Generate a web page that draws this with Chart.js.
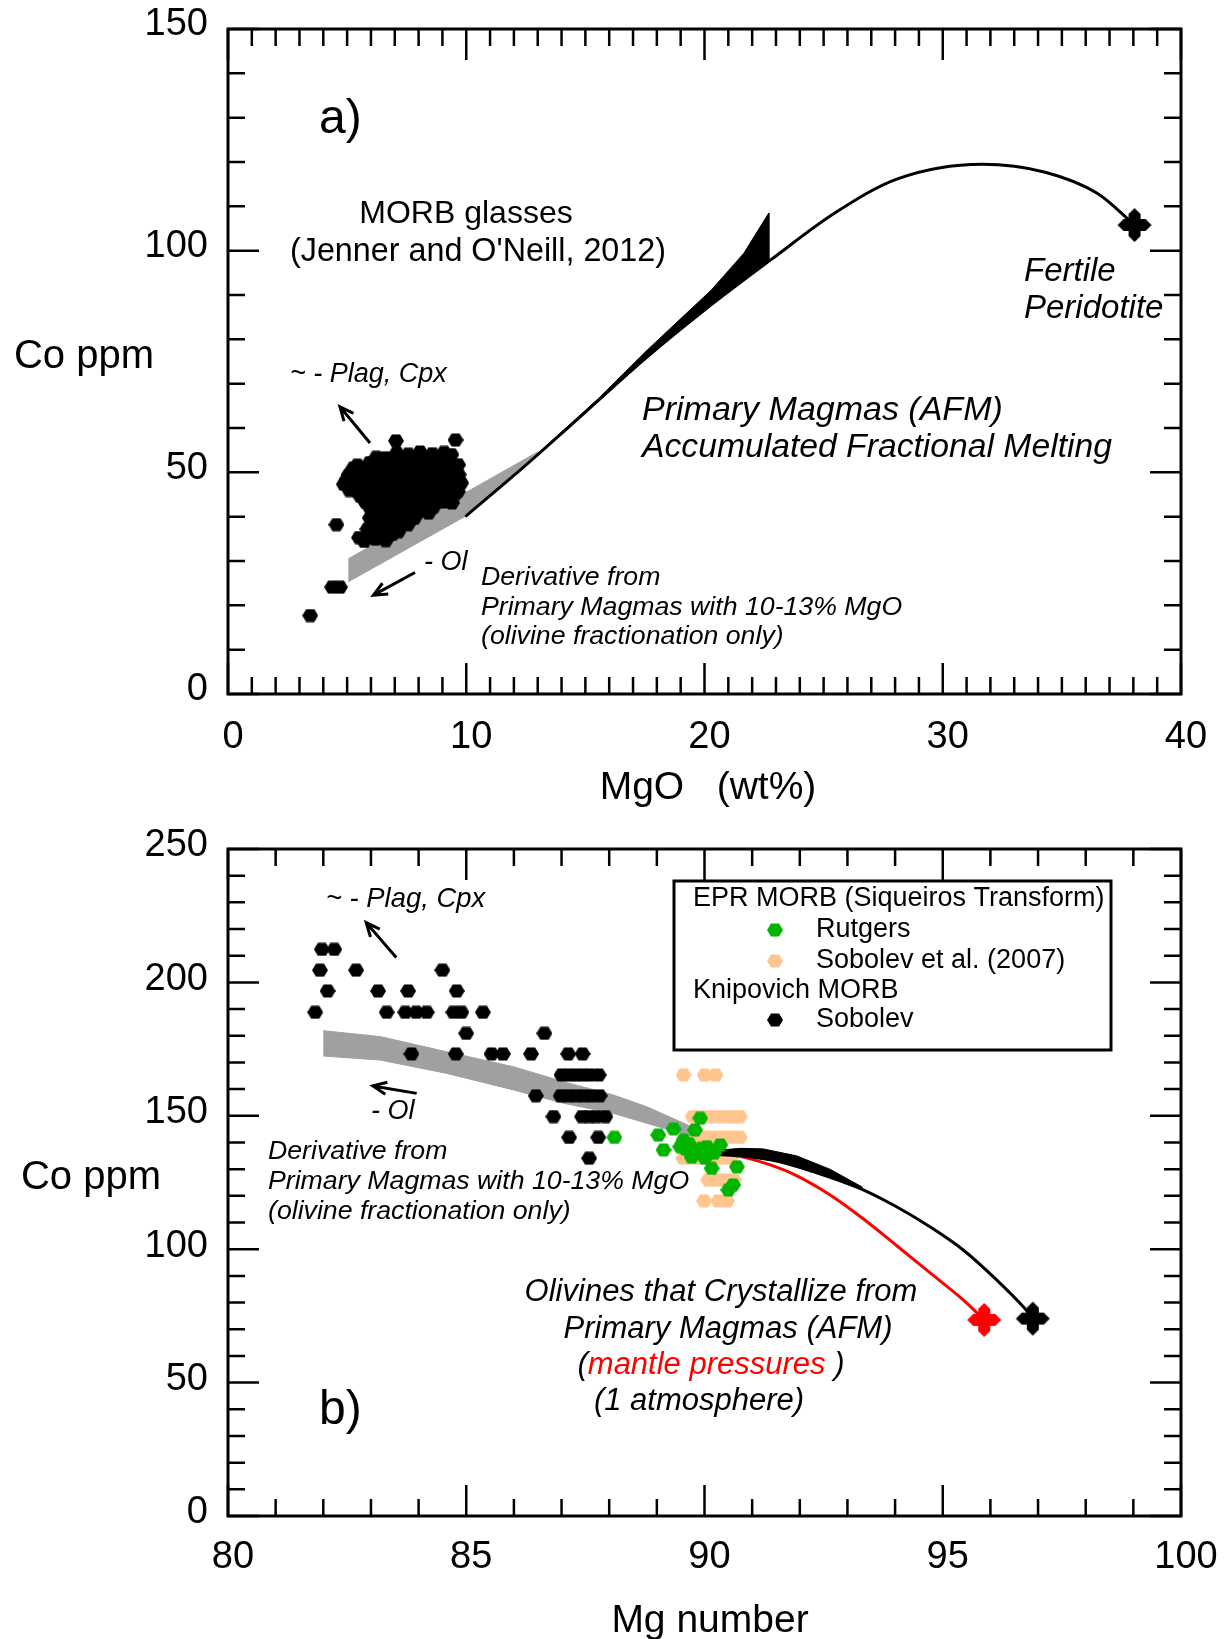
<!DOCTYPE html>
<html>
<head>
<meta charset="utf-8">
<script src="https://cdn.jsdelivr.net/npm/chart.js@4.4.1/dist/chart.umd.min.js"></script>
<style>
  html, body { margin: 0; padding: 0; background: #fff; }
  #wrap { position: relative; width: 1231px; height: 1639px; }
  #mgoChart { position: absolute; left: 0; top: 0; }
  #mgnumChart { position: absolute; left: 0; top: 820px; }
</style>
</head>
<body>
<div id="wrap">
  <canvas id="mgoChart" width="1231" height="820"></canvas>
  <canvas id="mgnumChart" width="1231" height="819"></canvas>
</div>
<script>
// ---- a) Co vs MgO (wt%) ----
const mgoTickLabels = [0, 10, 20, 30, 40];
const coTickLabelsA = [0, 50, 100, 150];

// MORB glasses (Jenner and O'Neill, 2012)
const morbMgO = [
  3.45, 4.37, 4.70, 4.55, 7.05, 9.55, 5.50,
  5.72, 6.18, 6.62,
  5.95, 6.45, 6.90,
  5.85, 6.30, 6.78, 7.15,
  6.08, 6.55, 7.05, 7.55,
  5.95, 6.42, 6.88, 7.34, 7.82,
  6.12, 6.60, 7.08, 7.55, 8.00, 8.42,
  5.92, 6.36, 6.81, 7.28, 7.74, 8.21, 8.62,
  5.75, 6.20, 6.68, 7.15, 7.62, 8.10, 8.55, 9.02, 9.40,
  5.55, 6.02, 6.48, 6.97, 7.44, 7.91, 8.38, 8.84, 9.28, 9.56,
  5.10, 5.58, 6.05, 6.50, 6.95, 7.42, 7.88, 8.35, 8.80, 9.26, 9.65,
  4.86, 5.31, 5.79, 6.24, 6.71, 7.18, 7.66, 8.12, 8.58, 9.04, 9.49, 9.79,
  4.98, 5.45, 5.90, 6.37, 6.85, 7.33, 7.80, 8.26, 8.72, 9.18, 9.62,
  5.06, 5.52, 5.98, 6.46, 6.93, 7.41, 7.88, 8.36, 8.81, 9.26, 9.68,
  5.25, 5.72, 6.20, 6.66, 7.13, 7.60, 8.06, 8.53, 9.00, 9.45,
  5.43, 5.94, 6.41, 6.87, 7.33, 7.81, 8.28, 8.74, 9.21, 9.66,
  6.60, 7.30, 7.82, 8.32, 8.82, 9.25,
  6.22, 7.08, 7.57, 8.06, 8.58, 9.07, 9.38
];
const morbCo = [
  17.7, 24.1, 24.1, 38.2, 57.1, 57.3, 35.3,
  34.4, 34.9, 34.6,
  35.9, 35.6, 36.0,
  37.2, 36.8, 37.4, 36.6,
  38.4, 38.1, 38.6, 38.2,
  39.7, 39.2, 39.9, 39.3, 39.6,
  40.9, 40.6, 41.0, 40.7, 41.1, 40.8,
  42.3, 41.8, 42.4, 41.9, 42.5, 41.7, 42.1,
  43.4, 43.1, 43.5, 43.2, 43.6, 43.0, 43.4, 43.3, 43.1,
  44.6, 44.2, 44.9, 44.3, 44.8, 44.4, 44.7, 44.1, 44.6, 45.2,
  45.9, 45.6, 46.0, 45.7, 45.9, 45.5, 46.1, 45.8, 45.6, 46.0, 45.7,
  47.3, 46.8, 47.4, 46.9, 47.2, 46.7, 47.5, 46.9, 47.3, 46.8, 47.4, 47.6,
  48.4, 48.1, 48.5, 48.2, 48.6, 48.0, 48.4, 48.3, 48.1, 48.5, 48.2,
  49.4, 49.8, 49.2, 49.7, 49.3, 49.9, 49.4, 49.8, 49.2, 49.7, 49.5,
  50.9, 50.6, 51.0, 50.7, 50.9, 50.5, 51.1, 50.8, 50.6, 50.9,
  51.6, 52.2, 51.8, 52.3, 51.7, 52.1, 51.8, 52.4, 51.9, 51.7,
  53.3, 53.0, 53.4, 53.1, 53.5, 53.2,
  53.4, 54.4, 54.1, 54.6, 54.2, 54.5, 54.0
];

// primary magmas (AFM), accumulated fractional melting path
const afmMgO = [10.0, 12.0, 13.0, 15.0, 17.5, 20.0, 22.75, 25.5, 28.1, 31.65, 34.3, 36.5, 38.05];
const afmCo  = [40.2, 49.3, 54.0, 63.6, 75.6, 86.6, 97.8, 108.6, 116.2, 119.5, 117.7, 112.9, 105.8];

// spread of the AFM path (outline, upper edge then back along lower edge)
const afmSpreadMgO = [13.3, 15.5, 17.6, 20.3, 21.65, 22.7, 22.7, 20.3, 17.6, 15.5, 13.3];
const afmSpreadCo  = [55.7, 66.4, 77.6, 91.2, 99.4, 108.5, 97.6, 87.9, 76.1, 66.0, 55.4];

// olivine-only derivatives of 10-13% MgO primary magmas
const olBandMgO = [5.05, 13.0, 10.0, 5.05];
const olBandCo  = [30.5, 54.6, 40.2, 25.3];

// fertile peridotite
const fertileMgO = [38.05];
const fertileCo  = [105.8];

// ---- b) Co vs Mg number ----
const mgTickLabels = [80, 85, 90, 95, 100];
const coTickLabelsB = [0, 50, 100, 150, 200, 250];

// Knipovich MORB olivines (Sobolev)
const knipMg = [
  81.97, 82.23,
  81.93, 82.69, 84.50,
  82.09, 83.15, 83.78, 84.80,
  81.83, 83.33, 83.72, 83.95, 84.17, 84.73, 84.90, 85.35,
  85.00, 86.64,
  83.85, 84.78, 85.53, 85.77, 86.36, 87.14, 87.44,
  87.00, 87.15, 87.30, 87.45, 87.60, 87.78,
  86.46, 86.98, 87.14, 87.30, 87.46, 87.62, 87.80,
  86.83, 87.43, 87.58, 87.73, 87.92,
  87.16, 87.77,
  87.58
];
const knipCo = [
  212.4, 212.4,
  204.6, 204.6, 204.6,
  196.8, 196.8, 196.8, 196.8,
  188.8, 188.8, 188.8, 188.8, 188.8, 188.8, 188.8, 188.8,
  180.9, 180.9,
  173.2, 173.2, 173.2, 173.2, 173.2, 173.2, 173.2,
  165.3, 165.3, 165.3, 165.3, 165.3, 165.3,
  157.5, 157.5, 157.5, 157.5, 157.5, 157.5, 157.5,
  149.7, 149.7, 149.7, 149.7, 149.7,
  141.9, 141.9,
  134.1
];

// EPR MORB olivines, Sobolev et al. (2007)
const sobolevMg = [
  89.56, 90.00, 90.23,
  89.75, 89.90, 90.05, 90.20, 90.35, 90.50, 90.62, 90.74,
  89.85, 90.00, 90.15, 90.30, 90.45, 90.60, 90.74,
  89.55, 89.70, 89.85, 90.00, 90.15, 90.30, 90.45, 90.55,
  90.08, 90.22, 90.36, 90.50, 90.62,
  89.99, 90.29, 90.47
];
const sobolevCo = [
  165.3, 165.3, 165.3,
  149.7, 149.7, 149.7, 149.7, 149.7, 149.7, 149.7, 149.7,
  141.9, 141.9, 141.9, 141.9, 141.9, 141.9, 141.9,
  134.1, 134.1, 134.1, 134.1, 134.1, 134.1, 134.1, 134.1,
  125.9, 125.9, 125.9, 125.9, 125.9,
  118.1, 118.1, 118.1
];

// EPR MORB olivines, Rutgers
const rutgersMg = [88.11, 89.03, 89.14, 89.35, 89.80, 89.91, 89.56, 89.49, 89.73, 89.94, 90.05,
                   90.33, 90.15, 90.01, 90.68, 90.60, 90.50, 89.84, 89.68, 90.20, 89.60];
const rutgersCo = [141.9, 142.8, 137.2, 145.1, 144.7, 149.1, 140.9, 138.4, 134.5, 137.8, 138.4,
                   139.1, 130.3, 134.1, 130.9, 124.1, 122.2, 136.5, 139.5, 136.0, 137.5];

// olivine fractionation band (upper edge, then back along lower edge)
const olBandMg = [82.0, 83.19, 84.59, 85.99, 87.04, 88.09, 88.79, 89.73, 90.0,
                  90.0, 89.73, 88.79, 88.09, 87.04, 85.99, 84.59, 83.19, 82.0];
const olBandCoB = [181.9, 179.7, 174.0, 168.4, 162.8, 157.8, 153.4, 145.9, 143.8,
                   141.6, 142.2, 147.2, 150.9, 154.7, 159.7, 165.9, 170.9, 172.4];

// olivines from primary magmas at 1 atmosphere
const olAtmMg = [89.9, 90.2, 90.75, 91.58, 92.28, 93.26, 94.03, 94.73, 95.43, 96.13, 96.69, 96.89];
const olAtmCo = [136.2, 135.6, 135.0, 132.8, 129.1, 122.8, 115.9, 108.4, 99.7, 88.5, 78.4, 74.1];

// spread of the 1 atmosphere path
const olAtmSpreadMg = [90.2, 90.75, 91.23, 91.93, 92.63, 93.3, 93.3, 92.28, 91.58, 90.75, 90.2];
const olAtmSpreadCo = [137.0, 137.8, 137.6, 135.0, 130.0, 123.4, 122.8, 128.9, 132.8, 135.0, 135.6];

// olivines from primary magmas at mantle pressures
const olMantleMg = [90.0, 90.75, 91.38, 91.93, 92.63, 93.33, 94.03, 94.73, 95.43, 95.87];
const olMantleCo = [137.2, 134.8, 131.6, 127.6, 120.4, 111.4, 101.4, 91.2, 81.0, 73.5];

// olivine in fertile peridotite
const fertOlMg = [96.89];
const fertOlCo = [74.0];
const fertOlMantleMg = [95.87];
const fertOlMantleCo = [73.5];

// ---------------------------------------------------------------
const FONT = '"Liberation Sans", Arial, Helvetica, sans-serif';
const GREEN = '#00b400';
const PEACH = '#ffc58e';
const GREY = '#a0a0a0';

const pts = (xs, ys) => xs.map((x, i) => ({ x, y: ys[i] }));

// filled hexagon marker
function hexMarker(color) {
  const c = document.createElement('canvas');
  c.width = 16; c.height = 14;
  const g = c.getContext('2d');
  g.fillStyle = color;
  g.beginPath();
  g.moveTo(0, 7); g.lineTo(4, 0.5); g.lineTo(12, 0.5);
  g.lineTo(16, 7); g.lineTo(12, 13.5); g.lineTo(4, 13.5);
  g.closePath();
  g.fill();
  return c;
}

// bold four-armed cross with pointed tips
function crossMarker(color) {
  const c = document.createElement('canvas');
  c.width = 36; c.height = 36;
  const g = c.getContext('2d');
  const m = 18, w = 6, s = 11, t = 17;
  g.fillStyle = color;
  g.beginPath();
  g.moveTo(m + w, m - w); g.lineTo(m + w, m - s); g.lineTo(m, m - t); g.lineTo(m - w, m - s);
  g.lineTo(m - w, m - w); g.lineTo(m - s, m - w); g.lineTo(m - t, m); g.lineTo(m - s, m + w);
  g.lineTo(m - w, m + w); g.lineTo(m - w, m + s); g.lineTo(m, m + t); g.lineTo(m + w, m + s);
  g.lineTo(m + w, m + w); g.lineTo(m + s, m + w); g.lineTo(m + t, m); g.lineTo(m + s, m - w);
  g.closePath();
  g.fill();
  return c;
}

const hexBlack = hexMarker('#000');
const hexGreen = hexMarker(GREEN);
const hexPeach = hexMarker(PEACH);

function scatterSet(label, xs, ys, img) {
  return { label, data: pts(xs, ys), showLine: false, pointStyle: img, pointRadius: 7 };
}
function crossSet(label, xs, ys, color) {
  return { label, data: pts(xs, ys), showLine: false, pointStyle: crossMarker(color), pointRadius: 17 };
}
function curveSet(label, xs, ys, color) {
  return { label, data: pts(xs, ys), borderColor: color, borderWidth: 3,
           cubicInterpolationMode: 'monotone', pointRadius: 0, fill: false, borderCapStyle: 'round' };
}
function shapeSet(label, xs, ys, color) {
  return { label, data: pts(xs, ys), borderColor: color, backgroundColor: color, borderWidth: 1,
           tension: 0, pointRadius: 0, fill: 'shape' };
}

function drawText(ctx, t) {
  ctx.font = `${t.italic ? 'italic ' : ''}${t.size}px ${FONT}`;
  ctx.textBaseline = 'middle';
  const parts = t.parts || [{ text: t.text, color: '#000' }];
  const total = parts.reduce((s, p) => s + ctx.measureText(p.text).width, 0);
  let x = t.x;
  if (t.align === 'center') x -= total / 2;
  ctx.textAlign = 'left';
  parts.forEach(p => {
    ctx.fillStyle = p.color;
    ctx.fillText(p.text, x, t.y);
    x += ctx.measureText(p.text).width;
  });
}

function drawArrow(ctx, x0, y0, x1, y1) {
  const ang = Math.atan2(y1 - y0, x1 - x0), h = 15, spread = 0.42;
  ctx.beginPath();
  ctx.moveTo(x0, y0); ctx.lineTo(x1, y1);
  ctx.moveTo(x1 - h * Math.cos(ang - spread), y1 - h * Math.sin(ang - spread));
  ctx.lineTo(x1, y1);
  ctx.lineTo(x1 - h * Math.cos(ang + spread), y1 - h * Math.sin(ang + spread));
  ctx.stroke();
}

// frame, inward ticks on all sides, texts, arrows and the boxed legend
const panelDecor = {
  id: 'panelDecor',
  afterDraw(chart, args, o) {
    const { ctx, chartArea: a } = chart;
    const sx = chart.scales.x, sy = chart.scales.y;
    ctx.save();
    ctx.strokeStyle = '#000';
    ctx.lineWidth = 2.5;
    ctx.beginPath();
    const nx = Math.round((sx.max - sx.min) / o.xMinor);
    for (let i = 0; i <= nx; i++) {
      const px = sx.getPixelForValue(sx.min + i * o.xMinor);
      const len = i % o.xEvery === 0 ? 31 : 17;
      ctx.moveTo(px, a.bottom); ctx.lineTo(px, a.bottom - len);
      ctx.moveTo(px, a.top); ctx.lineTo(px, a.top + len);
    }
    const ny = Math.round((sy.max - sy.min) / o.yMinor);
    for (let i = 0; i <= ny; i++) {
      const py = sy.getPixelForValue(sy.min + i * o.yMinor);
      const len = i % o.yEvery === 0 ? 31 : 17;
      ctx.moveTo(a.left, py); ctx.lineTo(a.left + len, py);
      ctx.moveTo(a.right, py); ctx.lineTo(a.right - len, py);
    }
    ctx.stroke();
    ctx.lineWidth = 3;
    ctx.strokeRect(a.left, a.top, a.right - a.left, a.bottom - a.top);

    o.arrows.forEach(([x0, y0, x1, y1]) => drawArrow(ctx,
      sx.getPixelForValue(x0), sy.getPixelForValue(y0),
      sx.getPixelForValue(x1), sy.getPixelForValue(y1)));

    o.texts.forEach(t => drawText(ctx, t));

    if (o.legend) {
      const L = o.legend;
      ctx.lineWidth = 3;
      ctx.strokeRect(L.box[0], L.box[1], L.box[2] - L.box[0], L.box[3] - L.box[1]);
      L.rows.forEach(r => {
        if (r.header) {
          drawText(ctx, { text: r.header, x: L.headerX, y: r.y, size: L.size });
        } else {
          const ds = chart.data.datasets[r.ds];
          const img = ds.pointStyle;
          ctx.drawImage(img, L.markerX - img.width / 2, r.y - img.height / 2);
          drawText(ctx, { text: ds.label, x: L.textX, y: r.y, size: L.size });
        }
      });
    }
    ctx.restore();
  }
};

// fixed-size axis boxes so the plot frame lands where it should
function axis(min, max, labels, pad, shift, fitFn) {
  return {
    type: 'linear', min, max,
    grid: { display: false, drawTicks: false },
    border: { display: false },
    afterBuildTicks: s => { s.ticks = labels.map(v => ({ value: v })); },
    ticks: { color: '#000', padding: pad, labelOffset: shift, autoSkip: false, maxRotation: 0,
             font: { family: FONT, size: 38 } },
    afterFit: s => {
      fitFn(s);
      s.paddingTop = 0; s.paddingBottom = 0; s.paddingLeft = 0; s.paddingRight = 0;
    }
  };
}

function baseOptions(xAxis, yAxis, decor) {
  return {
    responsive: false,
    devicePixelRatio: 1,
    animation: false,
    events: [],
    layout: { padding: { top: 29, right: 50, left: 0, bottom: 0 } },
    scales: { x: xAxis, y: yAxis },
    plugins: { legend: { display: false }, tooltip: { enabled: false }, panelDecor: decor }
  };
}

// ---- panel a ----
new Chart(document.getElementById('mgoChart'), {
  type: 'line',
  data: {
    datasets: [
      crossSet('Fertile Peridotite', fertileMgO, fertileCo, '#000'),
      scatterSet('MORB glasses', morbMgO, morbCo, hexBlack),
      curveSet('Primary Magmas (AFM)', afmMgO, afmCo, '#000'),
      shapeSet('AFM spread', afmSpreadMgO, afmSpreadCo, '#000'),
      shapeSet('Olivine fractionation', olBandMgO, olBandCo, GREY)
    ]
  },
  options: baseOptions(
    axis(0, 40, mgoTickLabels, 21, 5, s => { s.height = 126; }),
    axis(0, 150, coTickLabelsA, 20, -4, s => { s.width = 228; }),
    {
      xMinor: 1, xEvery: 10, yMinor: 10, yEvery: 5,
      arrows: [[5.96, 56.6, 4.70, 64.8], [7.85, 27.4, 6.10, 22.3]],
      texts: [
        { text: 'a)', x: 319, y: 120, size: 48 },
        { text: 'MORB glasses', x: 466, y: 214, size: 32, align: 'center' },
        { text: "(Jenner and O'Neill, 2012)", x: 478, y: 252, size: 32.3, align: 'center' },
        { text: 'Fertile', x: 1024, y: 272, size: 33, italic: true },
        { text: 'Peridotite', x: 1024, y: 309, size: 33, italic: true },
        { text: '~ - Plag, Cpx', x: 290, y: 374, size: 27, italic: true },
        { text: 'Primary Magmas (AFM)', x: 642, y: 411, size: 34, italic: true },
        { text: 'Accumulated Fractional Melting', x: 642, y: 448, size: 33.7, italic: true },
        { text: '- Ol', x: 424, y: 562, size: 27, italic: true },
        { text: 'Derivative from', x: 481, y: 578, size: 26.7, italic: true },
        { text: 'Primary Magmas with 10-13% MgO', x: 481, y: 608, size: 26.7, italic: true },
        { text: '(olivine fractionation only)', x: 481, y: 637, size: 26.7, italic: true },
        { text: 'Co ppm', x: 84, y: 357, size: 40, align: 'center' },
        { text: 'MgO   (wt%)', x: 708, y: 788, size: 39, align: 'center' }
      ]
    }
  ),
  plugins: [panelDecor]
});

// ---- panel b ----
new Chart(document.getElementById('mgnumChart'), {
  type: 'line',
  data: {
    datasets: [
      crossSet('Olivine in fertile peridotite', fertOlMg, fertOlCo, '#000'),
      crossSet('Olivine in fertile peridotite (mantle pressures)', fertOlMantleMg, fertOlMantleCo, '#ff0000'),
      scatterSet('Rutgers', rutgersMg, rutgersCo, hexGreen),
      curveSet('Olivines from primary magmas (1 atmosphere)', olAtmMg, olAtmCo, '#000'),
      shapeSet('1 atmosphere spread', olAtmSpreadMg, olAtmSpreadCo, '#000'),
      curveSet('Olivines from primary magmas (mantle pressures)', olMantleMg, olMantleCo, '#ff0000'),
      scatterSet('Sobolev et al. (2007)', sobolevMg, sobolevCo, hexPeach),
      scatterSet('Sobolev', knipMg, knipCo, hexBlack),
      shapeSet('Olivine fractionation', olBandMg, olBandCoB, GREY)
    ]
  },
  options: baseOptions(
    axis(80, 100, mgTickLabels, 19, 5, s => { s.height = 123; }),
    axis(0, 250, coTickLabelsB, 20, -3, s => { s.width = 228; }),
    {
      xMinor: 1, xEvery: 5, yMinor: 10, yEvery: 5,
      arrows: [[83.53, 209.3, 82.90, 222.4], [83.96, 158.4, 83.04, 161.2]],
      texts: [
        { text: '~ - Plag, Cpx', x: 326, y: 79, size: 27.4, italic: true },
        { text: '- Ol', x: 371, y: 291, size: 27, italic: true },
        { text: 'Derivative from', x: 268, y: 332, size: 26.7, italic: true },
        { text: 'Primary Magmas with 10-13% MgO', x: 268, y: 362, size: 26.7, italic: true },
        { text: '(olivine fractionation only)', x: 268, y: 392, size: 26.7, italic: true },
        { text: 'Olivines that Crystallize from', x: 721, y: 472, size: 31, italic: true, align: 'center' },
        { text: 'Primary Magmas (AFM)', x: 728, y: 509, size: 31, italic: true, align: 'center' },
        { parts: [{ text: '(', color: '#000' }, { text: 'mantle pressures', color: '#ff0000' },
                  { text: ' )', color: '#000' }], x: 711, y: 545, size: 31, italic: true, align: 'center' },
        { text: '(1 atmosphere)', x: 699, y: 581, size: 31, italic: true, align: 'center' },
        { text: 'b)', x: 319, y: 591, size: 48 },
        { text: 'Co ppm', x: 91, y: 358, size: 40, align: 'center' },
        { text: 'Mg number', x: 710, y: 801, size: 39, align: 'center' }
      ],
      legend: {
        box: [674, 61, 1111, 230], headerX: 693, markerX: 775, textX: 816, size: 27,
        rows: [
          { header: 'EPR MORB (Siqueiros Transform)', y: 79 },
          { ds: 2, y: 110 },
          { ds: 6, y: 141 },
          { header: 'Knipovich MORB', y: 171 },
          { ds: 7, y: 200 }
        ]
      }
    }
  ),
  plugins: [panelDecor]
});
</script>
</body>
</html>
